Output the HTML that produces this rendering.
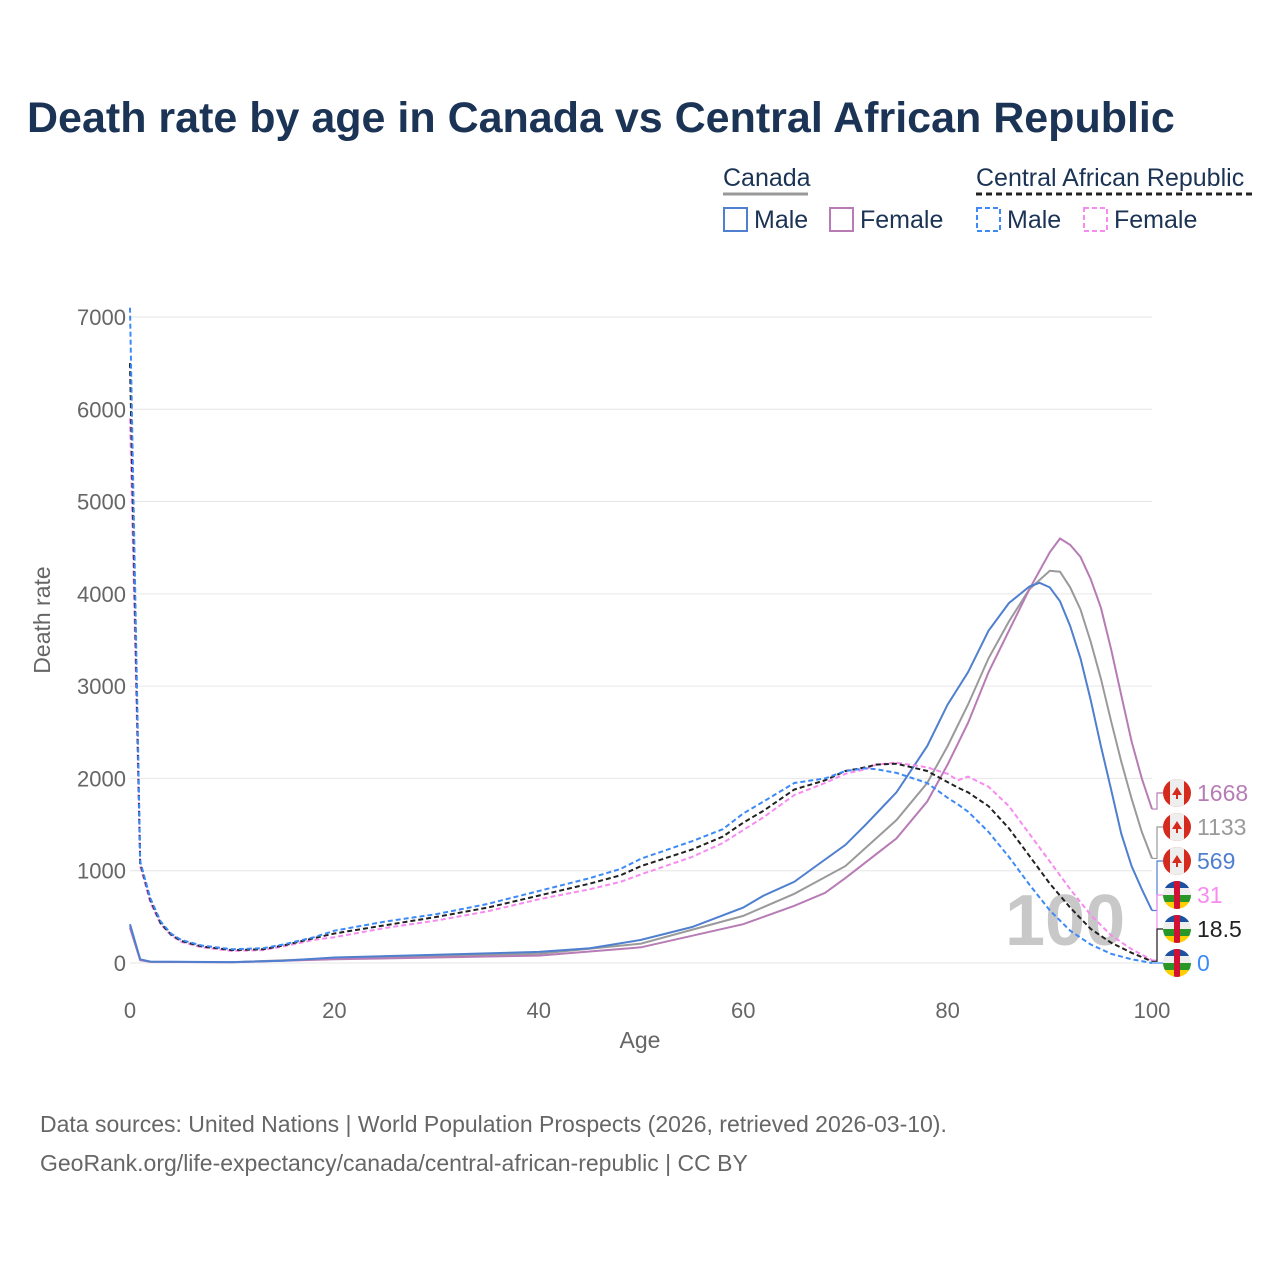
<!DOCTYPE html>
<html><head><meta charset="utf-8"><style>
body{margin:0;background:#fff;font-family:"Liberation Sans",sans-serif}
</style></head><body>
<svg width="1280" height="1280" xmlns="http://www.w3.org/2000/svg" id="svg" font-family="Liberation Sans, sans-serif">
<text x="27" y="132" font-size="43" font-weight="bold" fill="#1b3354">Death rate by age in Canada vs Central African Republic</text>
<g font-size="25" fill="#1b3354">
<text x="723" y="186">Canada</text>
<line x1="723" y1="194" x2="808" y2="194" stroke="#999" stroke-width="3"/>
<text x="976" y="186">Central African Republic</text>
<line x1="976" y1="194" x2="1254" y2="194" stroke="#222" stroke-width="3" stroke-dasharray="6,4"/>
<g><rect x="724" y="208" width="23" height="23" fill="none" stroke="#4f7fcf" stroke-width="2"/><text x="754" y="228">Male</text></g>
<g><rect x="830" y="208" width="23" height="23" fill="none" stroke="#b77bb5" stroke-width="2"/><text x="860" y="228">Female</text></g>
<g><rect x="977" y="208" width="23" height="23" fill="none" stroke="#3d8af7" stroke-width="2" stroke-dasharray="5,3"/><text x="1007" y="228">Male</text></g>
<g><rect x="1084" y="208" width="23" height="23" fill="none" stroke="#f78bf0" stroke-width="2" stroke-dasharray="5,3"/><text x="1114" y="228">Female</text></g>
</g>
<g id="grid"></g>
<text x="1005" y="945" font-size="72" font-weight="bold" fill="#c8c8c8">100</text>
<g id="series"></g>
<g id="ends"></g>
<text x="640" y="1048" font-size="23" fill="#666" text-anchor="middle">Age</text>
<text transform="translate(50,620) rotate(-90)" font-size="23" fill="#666" text-anchor="middle">Death rate</text>
<text x="40" y="1132" font-size="23" fill="#666">Data sources: United Nations | World Population Prospects (2026, retrieved 2026-03-10).</text>
<text x="40" y="1171" font-size="23" fill="#666">GeoRank.org/life-expectancy/canada/central-african-republic | CC BY</text>
</svg>
<script>
const xTicks=[0,20,40,60,80,100];
const yTicks=[0,1000,2000,3000,4000,5000,6000,7000];
const caMaleAges=[0,1,2,10,15,20,30,40,45,50,55,60,62,65,67,70,72,75,78,80,82,84,86,88,89,90,91,92,93,94,95,96,97,98,99,100];
const caMaleVals=[420,40,15,10,25,60,90,120,160,250,390,600,730,880,1040,1280,1500,1850,2350,2800,3150,3600,3900,4080,4120,4070,3920,3650,3300,2850,2350,1880,1400,1050,800,569];
const caAvgAges=[0,1,2,10,20,40,50,60,65,70,75,78,80,82,84,86,88,90,91,92,93,94,95,96,97,98,99,100];
const caAvgVals=[400,35,14,9,50,100,210,510,750,1050,1550,1950,2350,2800,3300,3700,4050,4250,4240,4070,3830,3480,3080,2620,2180,1780,1420,1133];
const caFemAges=[0,1,2,10,20,40,50,60,65,68,70,75,78,80,82,84,86,88,90,91,92,93,94,95,96,97,98,99,100];
const caFemVals=[380,30,12,8,40,80,170,420,620,760,920,1350,1750,2150,2600,3150,3600,4050,4450,4600,4530,4400,4160,3850,3400,2900,2400,2000,1668];
const carAges=[0,1,2,3,4,5,7,10,13,15,18,20,25,30,35,40,45,48,50,55,58,60,62,65,68,70,72,73,75,78,80,81,82,84,86,88,90,92,94,96,98,100];
const carMaleVals=[7100,1100,700,450,320,250,190,150,160,200,280,350,450,530,640,780,920,1020,1130,1320,1450,1620,1750,1950,2000,2080,2110,2100,2060,1950,1790,1720,1640,1420,1150,850,570,350,200,100,40,0];
const carFemVals=[5900,1050,650,420,300,230,170,130,140,180,250,280,380,460,560,690,800,880,960,1150,1300,1440,1580,1820,1950,2050,2100,2150,2170,2120,2050,1980,2020,1910,1700,1400,1100,800,520,300,150,31];
const carAvgVals=[6500,1080,680,430,310,240,180,140,150,190,270,320,410,500,600,730,860,950,1050,1230,1370,1520,1650,1880,1980,2080,2120,2150,2160,2080,1960,1900,1850,1700,1460,1160,860,600,370,220,110,18.5];
const NS='http://www.w3.org/2000/svg';
const xS=a=>130+a*10.22, yS=v=>963-v*0.09229;
function mk(t,at,p){const e=document.createElementNS(NS,t);for(const k in at)e.setAttribute(k,at[k]);p.appendChild(e);return e;}
const grid=document.getElementById('grid');
yTicks.forEach(v=>{
 const l=mk('line',{x1:130,x2:1152,y1:yS(v),y2:yS(v),stroke:'#e6e6e6','stroke-width':1},grid);
 
 
 const t=mk('text',{x:126,y:yS(v)+8,'font-size':22,fill:'#666','text-anchor':'end'},grid);t.textContent=v;
 
 
});
xTicks.forEach(v=>{
 const t=mk('text',{x:xS(v),y:1018,'font-size':22,fill:'#666','text-anchor':'middle'},grid);t.textContent=v;
 
 
});
const series=document.getElementById('series');
function line(ages,vals,color,dash,name){
 const d=ages.map((a,i)=>(i?'L':'M')+xS(a).toFixed(1)+','+yS(vals[i]).toFixed(1)).join('');
 const p=mk('path',{d,fill:'none',stroke:color,'stroke-width':2},series);
 if(dash)p.setAttribute('stroke-dasharray','5,3');
 
 
}
line(caAvgAges,caAvgVals,'#9a9a9a',false,'line-canada-average');
line(caFemAges,caFemVals,'#b77bb5',false,'line-canada-female');
line(caMaleAges,caMaleVals,'#4f7fcf',false,'line-canada-male');
line(carAges,carFemVals,'#f78bf0',true,'line-car-female');
line(carAges,carAvgVals,'#222',true,'line-car-average');
line(carAges,carMaleVals,'#3d8af7',true,'line-car-male');
const ends=document.getElementById('ends');
const endItems=[[caFemVals,'#b77bb5','ca',793],[caAvgVals,'#9a9a9a','ca',827],[caMaleVals,'#4f7fcf','ca',861],[carFemVals,'#f78bf0','car',895],[carAvgVals,'#222','car',929],[carMaleVals,'#3d8af7','car',963]];
endItems.forEach(([vals,col,fl,fy])=>{
 const v=vals[vals.length-1], ly=yS(v);
 const c=mk('path',{d:`M1152,${ly}L1157,${ly}L1157,${fy}L1163,${fy}`,fill:'none',stroke:col,'stroke-width':1.2},ends);
 
 
 const g=mk('g',{},ends);
 
 
 const cx=1177,r=14;
 const id='c'+fy;mk('clipPath',{id},g).appendChild(document.createElementNS(NS,'circle')).setAttribute('r',r);
 g.lastChild.firstChild.setAttribute('cx',cx);g.lastChild.firstChild.setAttribute('cy',fy);
 const h=mk('g',{'clip-path':`url(#${id})`},g);
 if(fl==='ca'){mk('rect',{x:cx-r,y:fy-r,width:28,height:28,fill:'#d52b1e'},h);mk('rect',{x:cx-7,y:fy-r,width:14,height:28,fill:'#eee'},h);mk('path',{d:`M${cx},${fy-6}L${cx+5},${fy+2}L${cx+1},${fy+2}L${cx+1},${fy+6}L${cx-1},${fy+6}L${cx-1},${fy+2}L${cx-5},${fy+2}Z`,fill:'#d52b1e'},h);}
 else{const cs=['#1e50a0','#eee','#289728','#ffce00'];cs.forEach((cc,i)=>mk('rect',{x:cx-r,y:fy-r+i*7,width:28,height:7,fill:cc},h));mk('rect',{x:cx-3,y:fy-r,width:6,height:28,fill:'#d21034'},h);}
 const t=mk('text',{x:1197,y:fy+8,'font-size':23,fill:col},ends);t.textContent=v;
 
 
});
</script>
</body></html>
